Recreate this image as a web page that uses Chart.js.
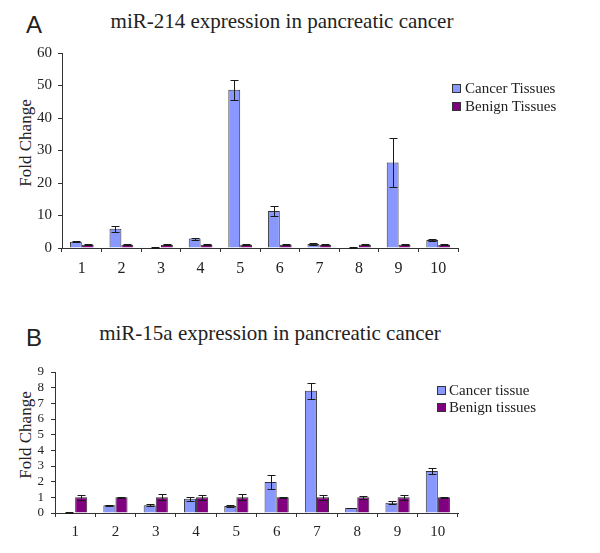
<!DOCTYPE html>
<html>
<head>
<meta charset="utf-8">
<script src="https://cdn.jsdelivr.net/npm/chart.js@4.4.1/dist/chart.umd.min.js"></script>
<style>
  html, body { margin: 0; padding: 0; background: #fff; }
  body { width: 600px; height: 553px; position: relative; overflow: hidden;
         font-family: "Liberation Serif", "Times New Roman", serif; color: #222; }
  canvas { position: absolute; left: 0; }
  .abs { position: absolute; white-space: nowrap; }
  .panel { font-family: "Liberation Sans", Arial, sans-serif; font-size: 24px; line-height: 24px; }
  .title { font-size: 21px; line-height: 21px; transform: translateX(-50%); }
  .ylab { font-size: 17px; line-height: 17px; transform: translate(-50%, -50%) rotate(-90deg); }
  .leg { font-size: 15px; line-height: 18px; }
  .sw { position: absolute; width: 7px; height: 7px; border: 1px solid #333; }
</style>
</head>
<body>
<div class="abs panel" style="left:26px; top:13px;">A</div>
<div class="abs title" id="titleA" style="left:282px; top:11px;"></div>
<div class="abs ylab" style="left:25px; top:143px;">Fold Change</div>

<div class="abs panel" style="left:26px; top:326px;">B</div>
<div class="abs title" id="titleB" style="left:270px; top:323px;"></div>
<div class="abs ylab" style="left:25px; top:435px;">Fold Change</div>

<canvas id="chartA" width="600" height="280" style="top:0px"></canvas>
<canvas id="chartB" width="600" height="273" style="top:280px"></canvas>
<div id="legends"></div>

<script>
// ---------------- data ----------------
const categories = ['1', '2', '3', '4', '5', '6', '7', '8', '9', '10'];

const titleA = 'miR-214 expression in pancreatic cancer';
const seriesNamesA = ['Cancer Tissues', 'Benign Tissues'];
const cancerA    = [1.9, 5.9, 0.15, 2.9, 48.7, 11.4, 1.2, 0.15, 26.3, 2.5];
const cancerErrA = [0.2, 1.0, 0.05, 0.3, 3.1, 1.4, 0.2, 0.05, 7.6, 0.4];
const benignA    = [1, 1, 1, 1, 1, 1, 1, 1, 1, 1];
const benignErrA = [0.1, 0.1, 0.1, 0.1, 0.1, 0.1, 0.1, 0.1, 0.1, 0.1];
const yMaxA = 60, yStepA = 10;

const titleB = 'miR-15a expression in pancreatic cancer';
const seriesNamesB = ['Cancer tissue', 'Benign tissues'];
const cancerB    = [0.03, 0.49, 0.5, 0.91, 0.45, 1.98, 7.8, 0.32, 0.66, 2.68];
const cancerErrB = [0.01, 0.02, 0.08, 0.12, 0.05, 0.45, 0.5, 0.02, 0.1, 0.18];
const benignB    = [1.0, 1.0, 1.0, 1.0, 1.0, 1.0, 1.0, 1.0, 1.0, 1.0];
const benignErrB = [0.15, 0.05, 0.2, 0.15, 0.2, 0.05, 0.15, 0.1, 0.15, 0.03];
const yMaxB = 9, yStepB = 1;

// ---------------- styles ----------------
const cancerColor = '#8898FF';
const benignColor = '#800080';
const edgeColor = '#333333';
const textColor = '#222222';
const serif = '"Liberation Serif", "Times New Roman", serif';

document.getElementById('titleA').textContent = titleA;
document.getElementById('titleB').textContent = titleB;

const errorBars = {
  id: 'errorBars',
  afterDatasetsDraw(chart) {
    const ctx = chart.ctx;
    const y = chart.scales.y;
    chart.data.datasets.forEach((ds, i) => {
      const meta = chart.getDatasetMeta(i);
      meta.data.forEach((bar, j) => {
        const v = ds.data[j], e = ds.errors ? ds.errors[j] : 0;
        if (!e) return;
        const x = Math.round(bar.x) + 0.5;
        const top = Math.round(y.getPixelForValue(v + e)) + 0.5;
        const bot = Math.round(y.getPixelForValue(Math.max(v - e, 0))) + 0.5;
        ctx.save();
        ctx.strokeStyle = '#1a1a1a';
        ctx.lineWidth = 1;
        ctx.beginPath();
        ctx.moveTo(x, top); ctx.lineTo(x, bot);
        ctx.moveTo(x - 4, top); ctx.lineTo(x + 4, top);
        ctx.moveTo(x - 4, bot); ctx.lineTo(x + 4, bot);
        ctx.stroke();
        ctx.restore();
      });
    });
  }
};

function makeChart(id, cfg) {
  return new Chart(document.getElementById(id), {
    type: 'bar',
    data: {
      labels: categories,
      datasets: [
        { label: cfg.names[0], data: cfg.cancer, errors: cfg.cancerErr,
          backgroundColor: cancerColor, borderColor: edgeColor, borderWidth: 1 },
        { label: cfg.names[1], data: cfg.benign, errors: cfg.benignErr,
          backgroundColor: benignColor, borderColor: edgeColor, borderWidth: 1 }
      ]
    },
    options: {
      responsive: false,
      animation: false,
      devicePixelRatio: 1,
      layout: { padding: { left: 0, top: cfg.top, right: 142, bottom: 0 } },
      datasets: { bar: { categoryPercentage: 0.6, barPercentage: 1.0 } },
      plugins: { legend: { display: false }, title: { display: false }, tooltip: { enabled: false } },
      scales: {
        x: {
          type: 'category',
          grid: { offset: true, drawOnChartArea: false, drawTicks: true, tickLength: 4,
                  color: edgeColor, tickColor: edgeColor },
          border: { display: true, color: edgeColor, width: 1 },
          ticks: { font: { family: serif, size: cfg.xFont }, color: textColor, padding: cfg.xPad,
                   maxRotation: 0, autoSkip: false },
          afterFit(scale) { scale.height = cfg.xHeight; }
        },
        y: {
          min: 0, max: cfg.yMax,
          grid: { drawOnChartArea: false, drawTicks: true, tickLength: 4,
                  color: edgeColor, tickColor: edgeColor },
          border: { display: true, color: edgeColor, width: 1 },
          ticks: { stepSize: cfg.yStep, font: { family: serif, size: cfg.yFont }, color: textColor,
                   padding: cfg.yPad, autoSkip: false },
          afterFit(scale) { scale.width = cfg.yWidth; }
        }
      }
    },
    plugins: [errorBars]
  });
}

makeChart('chartA', { names: seriesNamesA, cancer: cancerA, cancerErr: cancerErrA,
  benign: benignA, benignErr: benignErrA, yMax: yMaxA, yStep: yStepA,
  top: 53, xHeight: 32, yWidth: 62, xFont: 16, yFont: 15, xPad: 7, yPad: 6 });

makeChart('chartB', { names: seriesNamesB, cancer: cancerB, cancerErr: cancerErrB,
  benign: benignB, benignErr: benignErrB, yMax: yMaxB, yStep: yStepB,
  top: 92, xHeight: 40, yWidth: 55, xFont: 15, yFont: 13, xPad: 6, yPad: 7 });

// ---------------- legends (HTML text) ----------------
function legend(names, sqX, txtX, rows) {
  const host = document.getElementById('legends');
  const colors = [cancerColor, benignColor];
  names.forEach((n, i) => {
    const sw = document.createElement('div');
    sw.className = 'sw';
    sw.style.left = sqX + 'px';
    sw.style.top = (rows[i] - 4) + 'px';
    sw.style.background = colors[i];
    host.appendChild(sw);
    const t = document.createElement('div');
    t.className = 'abs leg';
    t.style.left = txtX + 'px';
    t.style.top = (rows[i] - 9) + 'px';
    t.textContent = n;
    host.appendChild(t);
  });
}
legend(seriesNamesA, 452, 465, [88, 106]);
legend(seriesNamesB, 437, 449, [390, 407]);
</script>
</body>
</html>
